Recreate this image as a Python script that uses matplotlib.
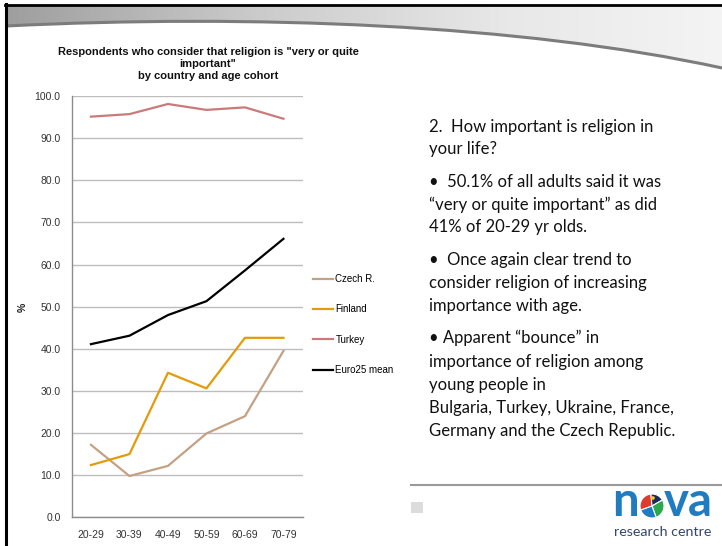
import numpy as np
import matplotlib
matplotlib.use('Agg')
import matplotlib.pyplot as plt
from matplotlib.path import Path
from matplotlib.patches import PathPatch, Wedge, Rectangle, Circle

age_groups = ['20-29', '30-39', '40-49', '50-59', '60-69', '70-79']
czech = [17.2, 9.8, 12.2, 19.9, 24.0, 39.5]
finland = [12.4, 15.0, 34.3, 30.6, 42.6, 42.6]
turkey = [95.1, 95.7, 98.1, 96.7, 97.3, 94.6]
euro25 = [41.1, 43.1, 48.0, 51.3, 58.6, 66.1]

series_names = ['Czech R.', 'Finland', 'Turkey', 'Euro25 mean']
series_colors = ['#c4a183', '#e39b0b', '#c97b7b', '#000000']

chart_title = 'Respondents who consider that religion is "very or quite\nimportant"\nby country and age cohort'

notes = [
    (127, '2.  How important is religion in'),
    (149, 'your life?'),
    (182, '\u2022  50.1% of all adults said it was'),
    (205, '\u201cvery or quite important\u201d as did'),
    (227, '41% of 20-29 yr olds.'),
    (260, '\u2022  Once again clear trend to'),
    (283, 'consider religion of increasing'),
    (306, 'importance with age.'),
    (338, '\u2022 Apparent \u201cbounce\u201d in'),
    (362, 'importance of religion among'),
    (385, 'young people in'),
    (408, 'Bulgaria, Turkey, Ukraine, France,'),
    (431, 'Germany and the Czech Republic.'),
]

W, H = 722, 546
fig = plt.figure(figsize=(W / 100, H / 100), dpi=100)
fig.patch.set_facecolor('white')

# slide background, drawn in pixel coordinates
bg = fig.add_axes([0, 0, 1, 1])
bg.set_xlim(0, W)
bg.set_ylim(H, 0)
bg.axis('off')

# header swoosh: gray gradient band above a curved edge
verts = [(6, 26), (250, 14), (520, 24), (722, 68)]
band = Path([(6, 5), (722, 5), (722, 68), (520, 24), (250, 14), (6, 26), (6, 5)],
            [Path.MOVETO, Path.LINETO, Path.LINETO, Path.CURVE4, Path.CURVE4, Path.CURVE4,
             Path.CLOSEPOLY])
grad = np.linspace(0, 1, 256).reshape(1, -1)
cmap = matplotlib.colors.LinearSegmentedColormap.from_list(
    'hdr', [(0, '#9e9e9e'), (0.35, '#cbcbcb'), (0.7, '#e8e8e8'), (1, '#f4f4f4')])
im = bg.imshow(grad, extent=(6, 722, 70, 5), cmap=cmap, aspect='auto', zorder=1)
clip = PathPatch(band, transform=bg.transData, facecolor='none', edgecolor='none')
bg.add_patch(clip)
im.set_clip_path(clip)
edge = Path(verts, [Path.MOVETO, Path.CURVE4, Path.CURVE4, Path.CURVE4])
bg.add_patch(PathPatch(edge, facecolor='none', edgecolor='#7c7c7c', lw=2.2, zorder=2))

# slide border
bg.plot([5, W], [4.5, 4.5], color='black', lw=2, zorder=3)
bg.plot([6, 6], [4, H], color='black', lw=2.2, zorder=3)

# bullet text on the right
for y, line in notes:
    bg.text(429, y, line, fontsize=12, family='Lato', color='#111111', va='center', ha='left')

# footer rule and logo
bg.plot([411, W], [485, 485], color='#9a9a9a', lw=1.5)
bg.add_patch(Rectangle((411, 502), 12, 11, facecolor='#dcdcdc', edgecolor='none'))
logo_blue = '#1f7cc1'
bg.text(612, 516, 'n', fontsize=34, family='Lato', fontweight='bold', color=logo_blue,
        ha='left', va='baseline')
bg.text(664, 516, 'va', fontsize=34, family='Lato', fontweight='bold', color=logo_blue,
        ha='left', va='baseline')
cx, cy, r = 652, 506, 12
for a1, a2, col in [(95, 200, '#e03a2f'), (30, 95, '#1b2a5e'), (-70, 30, '#2aa84a'), (200, 290, '#1f7cc1')]:
    bg.add_patch(Wedge((cx, cy), r, -a2, -a1, facecolor=col, edgecolor='white', lw=0.8))
bg.add_patch(Circle((cx + 1, cy - 8), 1.8, facecolor='#f2d21b', edgecolor='none'))
bg.text(663, 532, 'research centre', fontsize=10.3, family='Lato', color='#34466a',
        ha='center', va='center')

# chart
ax = fig.add_axes([71.7 / W, 1 - 517.3 / H, 231 / W, 421.3 / H])
ax.patch.set_alpha(0)
x = np.arange(len(age_groups))
for vals, name, col in zip([czech, finland, turkey, euro25], series_names, series_colors):
    ax.plot(x, vals, color=col, lw=1.6, label=name)

ax.set_xlim(-0.5, len(age_groups) - 0.5)
ax.set_ylim(0, 100)
ax.set_yticks(np.arange(0, 101, 10))
ax.set_yticklabels(['%.1f' % v for v in np.arange(0, 101, 10)])
ax.set_xticks(x)
ax.set_xticklabels(age_groups)
ax.grid(axis='y', color='#bdbdbd', lw=1)
ax.set_axisbelow(True)
for s in ['top', 'right']:
    ax.spines[s].set_visible(False)
for s in ['left', 'bottom']:
    ax.spines[s].set_color('#8c8c8c')
    ax.spines[s].set_linewidth(1)
ax.tick_params(length=0, labelsize=7.5, labelcolor='#333333', pad=9, labelfontfamily='Liberation Sans')
ax.tick_params(axis='y', pad=8)

ax.legend(loc='upper left', bbox_to_anchor=(313 / W, 1 - 274 / H), bbox_transform=fig.transFigure,
          frameon=False, prop={'family': 'Liberation Sans', 'size': 7}, handlelength=2.1,
          handletextpad=0.2, labelspacing=2.1, borderpad=0, borderaxespad=0)

fig.text(208 / W, 1 - 64 / H, chart_title, ha='center', va='center', fontsize=8,
         fontweight='bold', family='Liberation Sans', color='#111111', linespacing=1.28)
fig.text(23 / W, 1 - 307 / H, '%', rotation=90, ha='center', va='center', fontsize=7.5,
         fontweight='bold', family='Liberation Sans', color='#222222')

fig.savefig('out.png', dpi=100)
